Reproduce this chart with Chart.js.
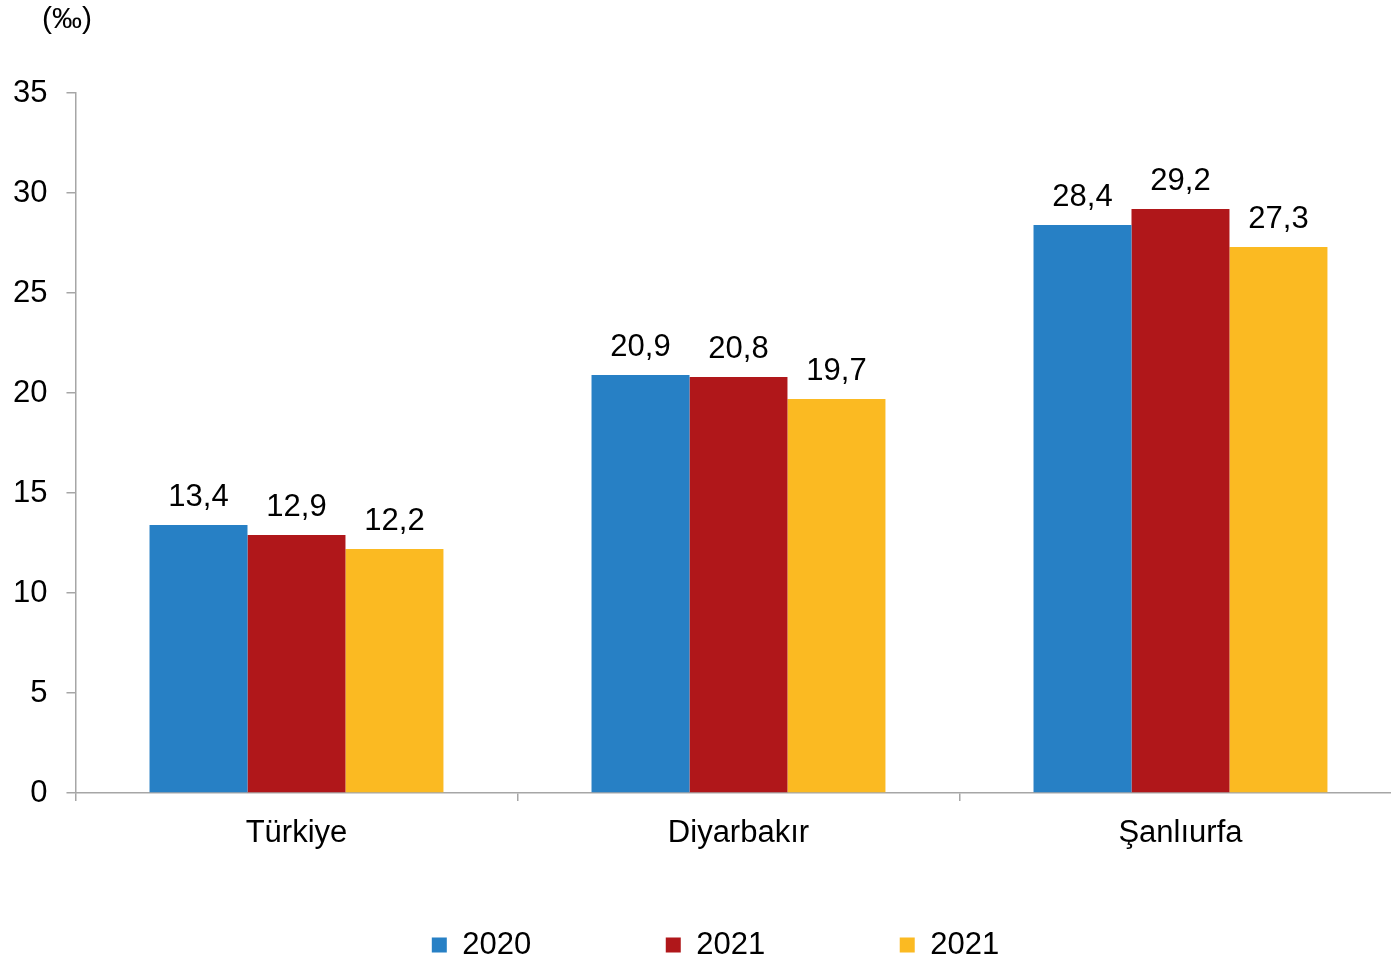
<!DOCTYPE html>
<html>
<head>
<meta charset="utf-8">
<script src="https://cdn.jsdelivr.net/npm/chart.js@4"></script>
<style>
  html, body { margin: 0; padding: 0; background: #fff; }
  #wrap { width: 1391px; height: 960px; }
</style>
</head>
<body>
<div id="wrap"><canvas id="ar" width="1391" height="960"></canvas></div>
<script>
const categories = ['Türkiye', 'Diyarbakır', 'Şanlıurfa'];
const seriesLabels = ['2020', '2021', '2021'];
const values2020 = [13.4, 20.9, 28.4];
const values2021 = [12.9, 20.8, 29.2];
const values2021b = [12.2, 19.7, 27.3];
const colors = ['#2780c5', '#b0171a', '#fbba22'];
const yTicks = [0, 5, 10, 15, 20, 25, 30, 35];
const unitLabel = '(‰)';

const FONT = "'Liberation Sans', Arial, sans-serif";

// labels above every bar, decimal comma
const barLabels = {
    id: 'barLabels',
    afterDatasetsDraw(chart) {
        const ctx = chart.ctx;
        ctx.save();
        ctx.font = '31px ' + FONT;
        ctx.fillStyle = '#000';
        ctx.textAlign = 'center';
        ctx.textBaseline = 'bottom';
        chart.data.datasets.forEach((ds, i) => {
            chart.getDatasetMeta(i).data.forEach((bar, j) => {
                const txt = ds.data[j].toFixed(1).replace('.', ',');
                ctx.fillText(txt, bar.x, bar.y - 12);
            });
        });
        ctx.restore();
    }
};

// unit text at the top left, legend nudge, room for the x labels;
// the original plot runs a little past the right edge of the picture
const unitText = {
    id: 'unitText',
    afterLayout(chart) {
        chart.legend.left += 18;
        chart.legend.right += 18;
        chart.legend.top += 2;
        chart.legend.bottom += 2;
        const x = chart.scales.x;
        x.bottom = x.top + 70;
        x.right = x.left + 1326;
        x.width = 1326;
        x.configure();
    },
    afterDraw(chart) {
        const ctx = chart.ctx;
        ctx.save();
        ctx.font = '30px ' + FONT;
        ctx.fillStyle = '#000';
        ctx.textAlign = 'left';
        ctx.textBaseline = 'middle';
        ctx.fillText(unitLabel, 42, 20);
        ctx.restore();
    }
};

const ctx = document.getElementById('ar').getContext('2d');
const myChart = new Chart(ctx, {
    type: 'bar',
    data: {
        labels: categories,
        datasets: [
            { label: seriesLabels[0], data: values2020, backgroundColor: colors[0] },
            { label: seriesLabels[1], data: values2021, backgroundColor: colors[1] },
            { label: seriesLabels[2], data: values2021b, backgroundColor: colors[2] }
        ]
    },
    options: {
        responsive: false,
        animation: false,
        layout: { padding: { top: 93, right: -10, left: -6, bottom: -8.5 } },
        datasets: {
            bar: { barPercentage: 1, categoryPercentage: 0.665 }
        },
        plugins: {
            legend: {
                position: 'bottom',
                labels: {
                    font: { family: FONT, size: 31 },
                    color: '#000',
                    boxWidth: 15,
                    boxHeight: 15,
                    padding: 134.5
                }
            },
            tooltip: { enabled: false }
        },
        scales: {
            x: {
                // legend box takes the room under the axis
                afterFit(scale) { scale.height = 0; },
                grid: {
                    display: true,
                    drawOnChartArea: false,
                    drawTicks: true,
                    tickLength: 8,
                    color: '#a6a6a6',
                    lineWidth: 1.5
                },
                border: { color: '#a6a6a6', width: 1.5 },
                ticks: {
                    font: { family: FONT, size: 31 },
                    color: '#000',
                    padding: 14
                }
            },
            y: {
                min: 0,
                max: 35,
                afterBuildTicks(axis) {
                    axis.ticks = yTicks.map(v => ({ value: v }));
                },
                grid: {
                    display: true,
                    drawOnChartArea: false,
                    drawTicks: true,
                    tickLength: 9,
                    color: '#a6a6a6',
                    lineWidth: 1.5
                },
                border: { color: '#a6a6a6', width: 1.5 },
                ticks: {
                    font: { family: FONT, size: 31 },
                    color: '#000',
                    padding: 19
                }
            }
        }
    },
    plugins: [barLabels, unitText]
});

myChart.update();
</script>
</body>
</html>
